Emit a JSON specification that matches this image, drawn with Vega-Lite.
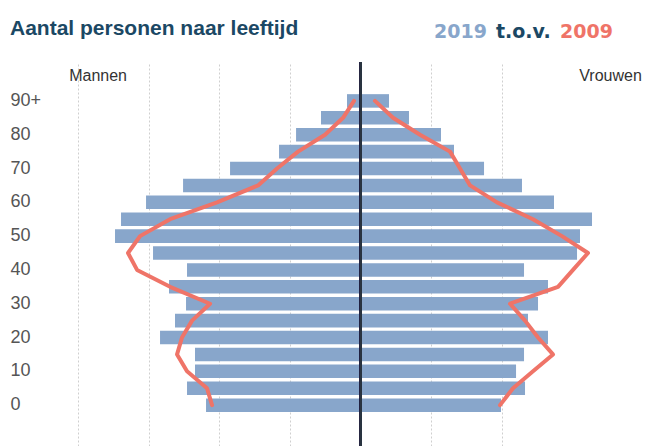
{
  "$schema": "https://vega.github.io/schema/vega-lite/v6.json",
  "autosize": "none",
  "width": 596,
  "height": 384,
  "padding": {"left": 50, "top": 62, "right": 0, "bottom": 0},
  "background": "white",
  "title": {"text": "Aantal personen naar leeftijd", "anchor": "start", "frame": "group", "dx": -40, "font": "Liberation Sans", "fontSize": 21, "fontWeight": "bold", "color": "#1b4864", "offset": -17},
  "config": {"view": {"stroke": null}},
  "data": {"values": [
    {"leeftijd": 90, "geslacht": "Mannen", "jaar": "2019", "aantal": -194},
    {"leeftijd": 85, "geslacht": "Mannen", "jaar": "2019", "aantal": -562},
    {"leeftijd": 80, "geslacht": "Mannen", "jaar": "2019", "aantal": -915},
    {"leeftijd": 75, "geslacht": "Mannen", "jaar": "2019", "aantal": -1156},
    {"leeftijd": 70, "geslacht": "Mannen", "jaar": "2019", "aantal": -1849},
    {"leeftijd": 65, "geslacht": "Mannen", "jaar": "2019", "aantal": -2514},
    {"leeftijd": 60, "geslacht": "Mannen", "jaar": "2019", "aantal": -3038},
    {"leeftijd": 55, "geslacht": "Mannen", "jaar": "2019", "aantal": -3392},
    {"leeftijd": 50, "geslacht": "Mannen", "jaar": "2019", "aantal": -3477},
    {"leeftijd": 45, "geslacht": "Mannen", "jaar": "2019", "aantal": -2939},
    {"leeftijd": 40, "geslacht": "Mannen", "jaar": "2019", "aantal": -2458},
    {"leeftijd": 35, "geslacht": "Mannen", "jaar": "2019", "aantal": -2713},
    {"leeftijd": 30, "geslacht": "Mannen", "jaar": "2019", "aantal": -2472},
    {"leeftijd": 25, "geslacht": "Mannen", "jaar": "2019", "aantal": -2628},
    {"leeftijd": 20, "geslacht": "Mannen", "jaar": "2019", "aantal": -2840},
    {"leeftijd": 15, "geslacht": "Mannen", "jaar": "2019", "aantal": -2345},
    {"leeftijd": 10, "geslacht": "Mannen", "jaar": "2019", "aantal": -2345},
    {"leeftijd": 5, "geslacht": "Mannen", "jaar": "2019", "aantal": -2458},
    {"leeftijd": 0, "geslacht": "Mannen", "jaar": "2019", "aantal": -2189},
    {"leeftijd": 90, "geslacht": "Vrouwen", "jaar": "2019", "aantal": 400},
    {"leeftijd": 85, "geslacht": "Vrouwen", "jaar": "2019", "aantal": 683},
    {"leeftijd": 80, "geslacht": "Vrouwen", "jaar": "2019", "aantal": 1136},
    {"leeftijd": 75, "geslacht": "Vrouwen", "jaar": "2019", "aantal": 1320},
    {"leeftijd": 70, "geslacht": "Vrouwen", "jaar": "2019", "aantal": 1745},
    {"leeftijd": 65, "geslacht": "Vrouwen", "jaar": "2019", "aantal": 2282},
    {"leeftijd": 60, "geslacht": "Vrouwen", "jaar": "2019", "aantal": 2735},
    {"leeftijd": 55, "geslacht": "Vrouwen", "jaar": "2019", "aantal": 3273},
    {"leeftijd": 50, "geslacht": "Vrouwen", "jaar": "2019", "aantal": 3103},
    {"leeftijd": 45, "geslacht": "Vrouwen", "jaar": "2019", "aantal": 3061},
    {"leeftijd": 40, "geslacht": "Vrouwen", "jaar": "2019", "aantal": 2311},
    {"leeftijd": 35, "geslacht": "Vrouwen", "jaar": "2019", "aantal": 2650},
    {"leeftijd": 30, "geslacht": "Vrouwen", "jaar": "2019", "aantal": 2509},
    {"leeftijd": 25, "geslacht": "Vrouwen", "jaar": "2019", "aantal": 2367},
    {"leeftijd": 20, "geslacht": "Vrouwen", "jaar": "2019", "aantal": 2650},
    {"leeftijd": 15, "geslacht": "Vrouwen", "jaar": "2019", "aantal": 2311},
    {"leeftijd": 10, "geslacht": "Vrouwen", "jaar": "2019", "aantal": 2198},
    {"leeftijd": 5, "geslacht": "Vrouwen", "jaar": "2019", "aantal": 2325},
    {"leeftijd": 0, "geslacht": "Vrouwen", "jaar": "2019", "aantal": 1985},
    {"leeftijd": 90, "geslacht": "Mannen", "jaar": "2009", "aantal": -95},
    {"leeftijd": 85, "geslacht": "Mannen", "jaar": "2009", "aantal": -250},
    {"leeftijd": 80, "geslacht": "Mannen", "jaar": "2009", "aantal": -505},
    {"leeftijd": 75, "geslacht": "Mannen", "jaar": "2009", "aantal": -887},
    {"leeftijd": 70, "geslacht": "Mannen", "jaar": "2009", "aantal": -1184},
    {"leeftijd": 65, "geslacht": "Mannen", "jaar": "2009", "aantal": -1453},
    {"leeftijd": 60, "geslacht": "Mannen", "jaar": "2009", "aantal": -2033},
    {"leeftijd": 55, "geslacht": "Mannen", "jaar": "2009", "aantal": -2698},
    {"leeftijd": 50, "geslacht": "Mannen", "jaar": "2009", "aantal": -3123},
    {"leeftijd": 45, "geslacht": "Mannen", "jaar": "2009", "aantal": -3293},
    {"leeftijd": 40, "geslacht": "Mannen", "jaar": "2009", "aantal": -3165},
    {"leeftijd": 35, "geslacht": "Mannen", "jaar": "2009", "aantal": -2698},
    {"leeftijd": 30, "geslacht": "Mannen", "jaar": "2009", "aantal": -2132},
    {"leeftijd": 25, "geslacht": "Mannen", "jaar": "2009", "aantal": -2387},
    {"leeftijd": 20, "geslacht": "Mannen", "jaar": "2009", "aantal": -2529},
    {"leeftijd": 15, "geslacht": "Mannen", "jaar": "2009", "aantal": -2599},
    {"leeftijd": 10, "geslacht": "Mannen", "jaar": "2009", "aantal": -2458},
    {"leeftijd": 5, "geslacht": "Mannen", "jaar": "2009", "aantal": -2175},
    {"leeftijd": 0, "geslacht": "Mannen", "jaar": "2009", "aantal": -2104},
    {"leeftijd": 90, "geslacht": "Vrouwen", "jaar": "2009", "aantal": 202},
    {"leeftijd": 85, "geslacht": "Vrouwen", "jaar": "2009", "aantal": 457},
    {"leeftijd": 80, "geslacht": "Vrouwen", "jaar": "2009", "aantal": 839},
    {"leeftijd": 75, "geslacht": "Vrouwen", "jaar": "2009", "aantal": 1264},
    {"leeftijd": 70, "geslacht": "Vrouwen", "jaar": "2009", "aantal": 1405},
    {"leeftijd": 65, "geslacht": "Vrouwen", "jaar": "2009", "aantal": 1547},
    {"leeftijd": 60, "geslacht": "Vrouwen", "jaar": "2009", "aantal": 1929},
    {"leeftijd": 55, "geslacht": "Vrouwen", "jaar": "2009", "aantal": 2438},
    {"leeftijd": 50, "geslacht": "Vrouwen", "jaar": "2009", "aantal": 2848},
    {"leeftijd": 45, "geslacht": "Vrouwen", "jaar": "2009", "aantal": 3216},
    {"leeftijd": 40, "geslacht": "Vrouwen", "jaar": "2009", "aantal": 3004},
    {"leeftijd": 35, "geslacht": "Vrouwen", "jaar": "2009", "aantal": 2792},
    {"leeftijd": 30, "geslacht": "Vrouwen", "jaar": "2009", "aantal": 2113},
    {"leeftijd": 25, "geslacht": "Vrouwen", "jaar": "2009", "aantal": 2325},
    {"leeftijd": 20, "geslacht": "Vrouwen", "jaar": "2009", "aantal": 2509},
    {"leeftijd": 15, "geslacht": "Vrouwen", "jaar": "2009", "aantal": 2721},
    {"leeftijd": 10, "geslacht": "Vrouwen", "jaar": "2009", "aantal": 2438},
    {"leeftijd": 5, "geslacht": "Vrouwen", "jaar": "2009", "aantal": 2155},
    {"leeftijd": 0, "geslacht": "Vrouwen", "jaar": "2009", "aantal": 1971}
  ]},
  "resolve": {"axis": {"x": "independent"}},
  "layer": [
    {
      "transform": [{"filter": "datum.jaar == '2019'"}],
      "mark": {"type": "bar"},
      "encoding": {
        "x": {"field": "aantal", "type": "quantitative", "stack": null,
          "scale": {"domain": [-4397, 4037], "nice": false, "zero": false},
          "axis": {"orient": "bottom", "values": [-4000, -3000, -2000, -1000, 1000, 2000], "grid": true, "gridDash": [2, 2], "gridColor": "#cfcfcf", "gridWidth": 1, "labels": false, "ticks": false, "domain": false, "title": null}},
        "y": {"field": "leeftijd", "type": "ordinal",
          "scale": {"domain": [95, 90, 85, 80, 75, 70, 65, 60, 55, 50, 45, 40, 35, 30, 25, 20, 15, 10, 5, 0, -5], "paddingInner": 0.2, "paddingOuter": 0.96, "align": 0.47},
          "axis": {"title": null, "domain": false, "ticks": false, "tickSize": 0, "labelAlign": "left", "labelPadding": 40, "labelFont": "Liberation Sans", "labelFontSize": 18, "labelColor": "#555555", "labelOverlap": false, "labelExpr": "datum.value == 90 ? '90+' : (datum.value >= 0 && datum.value % 10 == 0 ? datum.label : '')", "grid": false}},
        "color": {"field": "jaar", "type": "nominal",
          "scale": {"domain": ["2019", "t.o.v.", "2009"], "range": ["#88a6cb", "#1b4864", "#ef7468"]},
          "legend": {"orient": "none", "legendX": 385, "legendY": -40, "direction": "horizontal", "gridAlign": "none", "title": null, "symbolSize": 0.01, "symbolOpacity": 0, "symbolStrokeWidth": 0, "labelOffset": -20, "columnPadding": 9, "labelFont": "DejaVu Sans", "labelFontSize": 19, "labelFontWeight": "bold", "encode": {"labels": {"update": {"fill": {"scale": "color", "field": "value"}}}}}}
      }
    },
    {
      "mark": {"type": "rule", "color": "#2a3440", "strokeWidth": 1.5},
      "encoding": {"x": {"datum": 0, "type": "quantitative", "axis": null}}
    },
    {
      "transform": [{"filter": "datum.jaar == '2009'"}],
      "mark": {"type": "line", "strokeWidth": 4, "strokeCap": "round", "strokeJoin": "round"},
      "encoding": {
        "x": {"field": "aantal", "type": "quantitative",
          "axis": {"orient": "top", "values": [-3724, 3528], "labelExpr": "datum.value < 0 ? 'Mannen' : 'Vrouwen'", "grid": false, "ticks": false, "domain": false, "title": null, "offset": -13, "labelPadding": 0, "labelBaseline": "middle", "labelFont": "Liberation Sans", "labelFontSize": 16, "labelColor": "#333333", "labelFlush": false, "labelOverlap": false}},
        "y": {"field": "leeftijd", "type": "ordinal",
          "axis": {"title": null, "domain": false, "ticks": false, "tickSize": 0, "labelAlign": "left", "labelPadding": 40, "labelFont": "Liberation Sans", "labelFontSize": 18, "labelColor": "#555555", "labelOverlap": false, "labelExpr": "datum.value == 90 ? '90+' : (datum.value >= 0 && datum.value % 10 == 0 ? datum.label : '')", "grid": false}},
        "color": {"field": "jaar", "type": "nominal",
          "legend": {"orient": "none", "legendX": 385, "legendY": -40, "direction": "horizontal", "gridAlign": "none", "title": null, "symbolSize": 0.01, "symbolOpacity": 0, "symbolStrokeWidth": 0, "labelOffset": -20, "columnPadding": 9, "labelFont": "DejaVu Sans", "labelFontSize": 19, "labelFontWeight": "bold", "encode": {"labels": {"update": {"fill": {"scale": "color", "field": "value"}}}}}},
        "detail": {"field": "geslacht"},
        "order": {"field": "leeftijd", "type": "quantitative"}
      }
    }
  ]
}
